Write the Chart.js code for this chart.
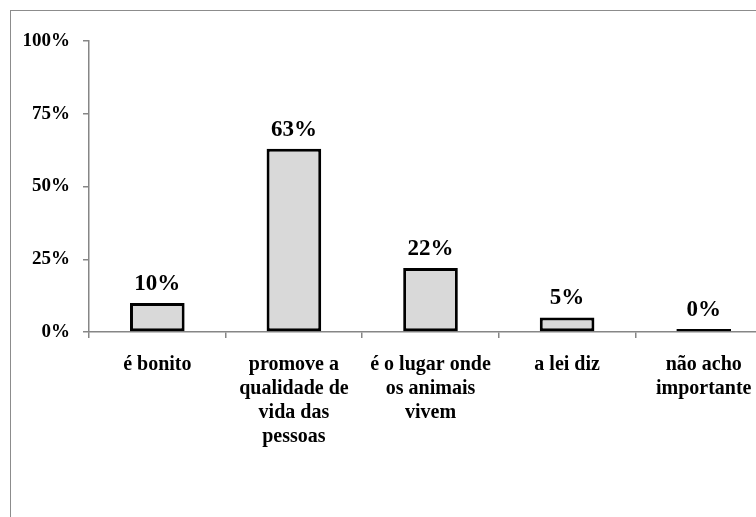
<!DOCTYPE html>
<html>
<head>
<meta charset="utf-8">
<script src="https://cdn.jsdelivr.net/npm/chart.js@4/dist/chart.umd.min.js"></script>
<style>
  html, body { margin: 0; padding: 0; background: #fff; }
  #wrap { position: relative; width: 756px; height: 517px; overflow: hidden; }
  #frame { position: absolute; left: 10px; top: 10px; width: 800px; height: 600px;
           border: 1.5px solid #8c8c8c; box-sizing: border-box; }
  #chart { position: absolute; left: 0; top: 0; }
</style>
</head>
<body>
<div id="wrap">
  <div id="frame"></div>
  <canvas id="chart" width="790" height="517"></canvas>
</div>
<script>
// respostas (categorias) e percentuais
const categories = [
    ["é bonito"],
    ["promove a", "qualidade de", "vida das", "pessoas"],
    ["é o lugar onde", "os animais", "vivem"],
    ["a lei diz"],
    ["não acho", "importante"]
];
const values = [10, 63, 22, 5, 0];
const yTicks = [0, 25, 50, 75, 100];

const SERIF = "'Liberation Serif', 'Times New Roman', serif";
const AXIS_GRAY = "#868686";

// rótulos de valor acima das barras
const valueLabels = {
    id: "valueLabels",
    afterDatasetsDraw(chart) {
        const ctx = chart.ctx;
        const meta = chart.getDatasetMeta(0);
        ctx.save();
        ctx.font = "bold 23px " + SERIF;
        ctx.fillStyle = "#000";
        ctx.textAlign = "center";
        ctx.textBaseline = "alphabetic";
        meta.data.forEach((bar, i) => {
            ctx.fillText(values[i] + "%", bar.x, bar.y - 13);
        });
        ctx.restore();
    }
};

new Chart(document.getElementById("chart"), {
    type: "bar",
    data: {
        labels: categories,
        datasets: [{
            data: values,
            backgroundColor: "#d9d9d9",
            borderColor: "#000",
            borderWidth: 3,
            borderSkipped: false,
            minBarLength: 3,
            barPercentage: 0.4,
            categoryPercentage: 1
        }]
    },
    options: {
        responsive: false,
        animation: false,
        layout: { padding: { top: 41, right: 18, bottom: 0, left: 0 } },
        plugins: {
            legend: { display: false },
            tooltip: { enabled: false }
        },
        scales: {
            x: {
                offset: true,
                grid: {
                    offset: true,
                    drawOnChartArea: false,
                    color: AXIS_GRAY,
                    tickLength: 6,
                    lineWidth: 1.5
                },
                border: { color: AXIS_GRAY, width: 1.5 },
                ticks: {
                    color: "#000",
                    font: { family: SERIF, size: 20, weight: "bold", lineHeight: 1.2 },
                    padding: 15,
                    maxRotation: 0,
                    autoSkip: false
                },
                afterFit(scale) { scale.height = 185; }
            },
            y: {
                min: 0,
                max: 100,
                afterBuildTicks(scale) {
                    scale.ticks = yTicks.map(v => ({ value: v }));
                },
                grid: {
                    drawOnChartArea: false,
                    color: AXIS_GRAY,
                    tickLength: 6,
                    lineWidth: 1.5
                },
                border: { color: AXIS_GRAY, width: 1.5 },
                ticks: {
                    color: "#000",
                    font: { family: SERIF, size: 19, weight: "bold" },
                    padding: 13,
                    callback: v => v + "%"
                },
                afterFit(scale) { scale.width = 89; }
            }
        }
    },
    plugins: [valueLabels]
});
</script>
</body>
</html>
